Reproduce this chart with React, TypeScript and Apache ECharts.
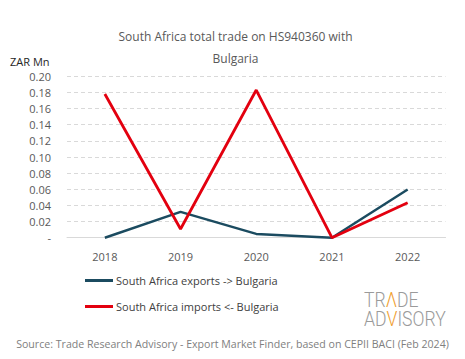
import React, { useEffect, useRef } from "react";
import * as echarts from "echarts";

const years = ["2018", "2019", "2020", "2021", "2022"];
const exportsZA = [0, 0.032, 0.0047, 0, 0.0597];
const importsZA = [0.178, 0.0108, 0.183, 0, 0.0432];
const seriesNames = ["South Africa exports -> Bulgaria", "South Africa imports <- Bulgaria"];
const titleText = "South Africa total trade on HS940360 with\nBulgaria";
const sourceText = "Source: Trade Research Advisory - Export Market Finder, based on CEPII BACI (Feb 2024)";

const FONT = "Open Sans";
const BLUE = "#1b4b60";
const RED = "#e3000f";
const ORANGE = "#f0a030";
const LOGO_GREY = "#9a9a9a";

const logoRich = {
  g: { fill: LOGO_GREY, fontSize: 20, fontFamily: "Roboto", fontWeight: 300, lineHeight: 16 },
  o: { fill: ORANGE, fontSize: 20, fontFamily: "Roboto", fontWeight: 300, lineHeight: 16 },
};

export default function App() {
  const ref = useRef<HTMLDivElement>(null);
  useEffect(() => {
    if (!ref.current) return;
    const chart = echarts.init(ref.current, null, { renderer: "svg" });
    chart.setOption({
      animation: false,
      backgroundColor: "#ffffff",
      textStyle: { fontFamily: FONT },
      grid: { left: 67, right: 19.5, top: 76.3, bottom: 121.3 },
      xAxis: {
        type: "category",
        data: years,
        boundaryGap: true,
        axisLine: { show: true, lineStyle: { color: "#d9d9d9", width: 1 } },
        axisTick: { show: false },
        axisLabel: { color: "#595959", fontSize: 11, margin: 13, fontFamily: FONT },
      },
      yAxis: {
        type: "value",
        min: 0,
        max: 0.2,
        interval: 0.02,
        axisLine: { show: false },
        axisTick: { show: false },
        axisLabel: {
          color: "#595959",
          fontSize: 11,
          margin: 16,
          fontFamily: FONT,
          formatter: (v: number) => (Math.abs(v) < 1e-9 ? "-" : v.toFixed(2)),
        },
        splitLine: { lineStyle: { color: "#d9d9d9", type: [4, 3], width: 1 } },
      },
      legend: {
        orient: "vertical",
        left: 80,
        top: 270,
        itemGap: 15,
        itemWidth: 28,
        itemHeight: 3,
        icon: "rect",
        textStyle: { color: "#404040", fontSize: 11, fontFamily: FONT, padding: [0, 0, 0, -2] },
        data: seriesNames,
      },
      series: [
        {
          name: seriesNames[0],
          type: "line",
          data: exportsZA,
          symbol: "none",
          lineStyle: { color: BLUE, width: 2.5 },
          itemStyle: { color: BLUE },
        },
        {
          name: seriesNames[1],
          type: "line",
          data: importsZA,
          symbol: "none",
          lineStyle: { color: RED, width: 2.8 },
          itemStyle: { color: RED },
        },
      ],
      graphic: [
        {
          type: "text",
          x: 235.5,
          y: 47,
          style: {
            text: titleText,
            fill: "#595959",
            font: `12px "${FONT}"`,
            align: "center",
            verticalAlign: "middle",
            lineHeight: 22,
          },
        },
        {
          type: "text",
          x: 10,
          y: 61,
          style: {
            text: "ZAR Mn",
            fill: "#262626",
            font: `11px "${FONT}"`,
            align: "left",
            verticalAlign: "middle",
          },
        },
        {
          type: "text",
          x: 232.5,
          y: 344,
          style: {
            text: sourceText,
            fill: "#808080",
            font: `10.6px "${FONT}"`,
            align: "center",
            verticalAlign: "middle",
          },
        },
        {
          type: "text",
          x: 364,
          y: 300.5,
          scaleX: 0.88,
          style: {
            text: "{g|TR}{o|Λ}{g|DE}",
            verticalAlign: "middle",
            align: "left",
            rich: logoRich,
          },
        },
        {
          type: "text",
          x: 364,
          y: 319.5,
          scaleX: 0.88,
          style: {
            text: "{g|AD}{o|V}{g|ISORY}",
            verticalAlign: "middle",
            align: "left",
            rich: logoRich,
          },
        },
      ],
    });
    return () => chart.dispose();
  }, []);
  return (
    <div
      ref={ref}
      style={{ position: "fixed", left: 0, top: 0, width: 465, height: 359 }}
    />
  );
}
